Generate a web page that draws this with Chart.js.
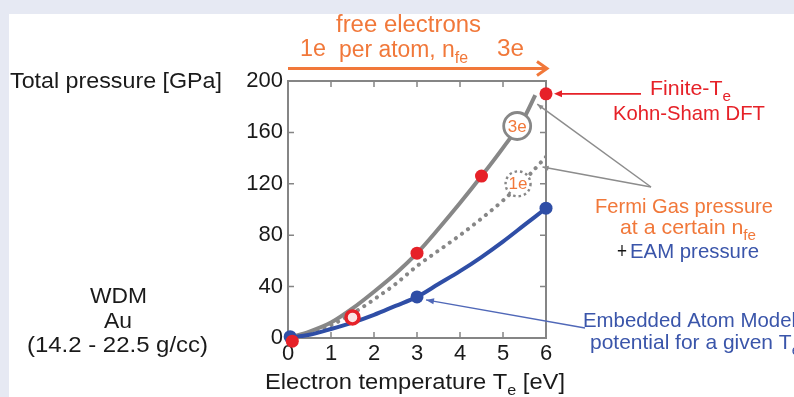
<!DOCTYPE html>
<html><head><meta charset="utf-8">
<script src="https://cdn.jsdelivr.net/npm/chart.js@4.4.0/dist/chart.umd.min.js"></script>
<style>html,body{margin:0;padding:0;background:#e6e9f3;overflow:hidden}#wrap{width:794px;height:397px;position:relative}canvas{display:block}</style>
</head><body><div id="wrap"><canvas id="c" width="794" height="397"></canvas></div>
<script>
// ---- data ----
const gas3eT = [0,0.5,1,1.5,2,2.5,3,3.5,4,4.5,5,5.5,5.75];
const gas3eP = [0,5,12,23,36,50,66,85,105,126,148,172,189];
const curveT = [0,0.5,1,1.5,2,2.5,3,3.5,4,4.5,5,5.5,6];
const gas1eP = [0,3,10,19,30,42,56,68,80,93,107,123,141];
const eamCurveP = [0,2.5,7,12,18,25,32,42,52,63,75,88,101];
const dftT = [0.1,1.5,3,4.5,6];
const dftP = [-2.5,16,66,126,190];
const eamT = [0.05,3,6];
const eamP = [1,32,101];
const xTickLabels = [0,1,2,3,4,5,6];
const yTickLabels = [0,40,80,120,160,200];
const markerLabels = ['3e','1e'];
const markerT = [5.33,5.35];
const markerP = [165,120];

const GRAY='#878787', BLUE='#2f4ea6', RED='#e62128', ORANGE='#f1783a', BTXT='#3a55aa';
const FONT='"Liberation Sans", Arial, sans-serif';
const pts=(xs,ys)=>xs.map((x,i)=>({x,y:ys[i]}));

function drawSeg(ctx, segs, x0, x1, base, size){
  ctx.save();
  let nat=0;
  segs.forEach(s=>{ctx.font=(s.sub?Math.round(size*0.7):size)+'px '+FONT; s.w=ctx.measureText(s.t).width; nat+=s.w;});
  const sx=(x1-x0)/nat;
  ctx.translate(x0,base); ctx.scale(sx,1);
  let cx=0;
  segs.forEach(s=>{
    ctx.font=(s.sub?Math.round(size*0.7):size)+'px '+FONT;
    ctx.fillStyle=s.color; ctx.textBaseline='alphabetic'; ctx.textAlign='left';
    ctx.fillText(s.t,cx,s.sub?size*0.27:0);
    cx+=s.w;
  });
  ctx.restore();
}
function arrowHead(ctx,x0,y0,x1,y1,len,wid,color){
  const a=Math.atan2(y1-y0,x1-x0);
  ctx.save();ctx.fillStyle=color;ctx.beginPath();
  ctx.moveTo(x1,y1);
  ctx.lineTo(x1-len*Math.cos(a)+wid*Math.sin(a), y1-len*Math.sin(a)-wid*Math.cos(a));
  ctx.lineTo(x1-len*Math.cos(a)-wid*Math.sin(a), y1-len*Math.sin(a)+wid*Math.cos(a));
  ctx.closePath();ctx.fill();ctx.restore();
}
function line(ctx,x0,y0,x1,y1,color,w){ctx.save();ctx.strokeStyle=color;ctx.lineWidth=w;ctx.beginPath();ctx.moveTo(x0,y0);ctx.lineTo(x1,y1);ctx.stroke();ctx.restore();}

const decor={
  id:'decor',
  beforeDraw(chart){
    const ctx=chart.ctx;ctx.save();
    ctx.fillStyle='#e6e9f3';ctx.fillRect(0,0,794,397);
    ctx.fillStyle='#ffffff';ctx.fillRect(9,14,785,383);
    ctx.restore();
  },
  beforeDatasetsDraw(chart){
    const ctx=chart.ctx, a=chart.chartArea, xs=chart.scales.x, ys=chart.scales.y;
    ctx.save();
    ctx.strokeStyle='#858585';ctx.lineWidth=1.5;
    ctx.beginPath();
    xs.ticks.forEach(t=>{const p=xs.getPixelForValue(t.value);ctx.moveTo(p,a.bottom);ctx.lineTo(p,a.bottom-6);ctx.moveTo(p,a.top);ctx.lineTo(p,a.top+6);});
    ys.ticks.forEach(t=>{const p=ys.getPixelForValue(t.value);ctx.moveTo(a.left,p);ctx.lineTo(a.left+6,p);ctx.moveTo(a.right,p);ctx.lineTo(a.right-6,p);});
    ctx.stroke();
    ctx.lineWidth=2;ctx.strokeRect(a.left,a.top,a.right-a.left,a.bottom-a.top);
    ctx.restore();
  },
  afterDraw(chart){
    const ctx=chart.ctx, xs=chart.scales.x, ys=chart.scales.y;
    const X=v=>xs.getPixelForValue(v), Y=v=>ys.getPixelForValue(v);
    markerLabels.forEach((lab,i)=>{
      const cx=X(markerT[i]), cy=Y(markerP[i]);
      ctx.save();ctx.beginPath();ctx.arc(cx,cy,i===0?13.5:12.5,0,Math.PI*2);ctx.fillStyle='#fff';ctx.fill();
      ctx.strokeStyle=GRAY;
      if(i===1){ctx.setLineDash([2.5,3]);ctx.lineWidth=2.4;}else{ctx.lineWidth=2.8;}
      ctx.stroke();ctx.setLineDash([]);
      ctx.fillStyle=ORANGE;ctx.font='17px '+FONT;ctx.textAlign='center';ctx.textBaseline='middle';
      ctx.fillText(lab,cx,cy+1);ctx.restore();
    });
    const ay=68.5, L=chart.chartArea.left, R=chart.chartArea.right+1;
    line(ctx,L,ay,R,ay,ORANGE,3);
    ctx.save();ctx.strokeStyle=ORANGE;ctx.lineWidth=3;ctx.lineJoin='miter';ctx.beginPath();
    ctx.moveTo(R-10,ay-7);ctx.lineTo(R,ay);ctx.lineTo(R-10,ay+7);ctx.stroke();ctx.restore();
    drawSeg(ctx,[{t:'free electrons',color:ORANGE}],336,481,32,23);
    drawSeg(ctx,[{t:'per atom, n',color:ORANGE},{t:'fe',sub:true,color:ORANGE}],339,468,57,23);
    drawSeg(ctx,[{t:'1e',color:ORANGE}],300,326,56,23);
    drawSeg(ctx,[{t:'3e',color:ORANGE}],497,524,56,23);
    drawSeg(ctx,[{t:'Total pressure [GPa]',color:'#1a1a1a'}],10,222,88,22);
    drawSeg(ctx,[{t:'WDM',color:'#1a1a1a'}],90,147,303,22);
    drawSeg(ctx,[{t:'Au',color:'#1a1a1a'}],104,132,328,22);
    drawSeg(ctx,[{t:'(14.2 - 22.5 g/cc)',color:'#1a1a1a'}],27,208,352,22);
    drawSeg(ctx,[{t:'Electron temperature T',color:'#1a1a1a'},{t:'e',sub:true,color:'#1a1a1a'},{t:' [eV]',color:'#1a1a1a'}],265,565,389,22);
    drawSeg(ctx,[{t:'Finite-T',color:RED},{t:'e',sub:true,color:RED}],650,731,95,21);
    drawSeg(ctx,[{t:'Kohn-Sham DFT',color:RED}],613,765,120,21);
    drawSeg(ctx,[{t:'Fermi Gas pressure',color:ORANGE}],595,773,213,21);
    drawSeg(ctx,[{t:'at a certain n',color:ORANGE},{t:'fe',sub:true,color:ORANGE}],620,756,234,21);
    drawSeg(ctx,[{t:'+',color:'#111'}],617,627,258,22);
    drawSeg(ctx,[{t:'EAM pressure',color:BTXT}],630,759,258,21);
    drawSeg(ctx,[{t:'Embedded Atom Model',color:BTXT}],583,796,327,21);
    drawSeg(ctx,[{t:'potential for a given T',color:BTXT},{t:'e',sub:true,color:BTXT}],590,800,349,21);
    const rx=X(dftT[4])+8, ry=Y(dftP[4]);
    line(ctx,641,ry,rx+5,ry,RED,1.6);arrowHead(ctx,641,ry,rx,ry,8,3.5,RED);
    const g1x=X(gas3eT[12])+2, g1y=Y(gas3eP[12])+9;
    const g2x=X(5.85)+3, g2y=Y(133);
    line(ctx,651,187,g1x,g1y,'#8c8c8c',1.5);arrowHead(ctx,651,187,g1x,g1y,6,2.5,'#8c8c8c');
    line(ctx,651,187,g2x,g2y,'#8c8c8c',1.5);arrowHead(ctx,651,187,g2x,g2y,6,2.5,'#8c8c8c');
    const bx=X(eamT[1])+9, by=Y(eamP[1])+3;
    line(ctx,585,328,bx,by,'#5068b8',1.5);arrowHead(ctx,585,328,bx,by,8,3,'#5068b8');
  }
};

new Chart(document.getElementById('c'),{
  type:'scatter',
  data:{datasets:[
    {label:'DFT',data:pts(dftT,dftP),pointRadius:6.5,pointHoverRadius:6.5,
     pointBackgroundColor:dftT.map((t,i)=>i===1?'#fbe4e4':RED),pointBorderColor:RED,
     pointBorderWidth:dftT.map((t,i)=>i===1?3.5:0),order:0,clip:false,showLine:false},
    {label:'EAM points',data:pts(eamT,eamP),pointRadius:6.5,pointBackgroundColor:BLUE,pointBorderWidth:0,order:1,clip:false,showLine:false},
    {label:'Fermi gas 3e',data:pts(gas3eT,gas3eP),showLine:true,borderColor:GRAY,borderWidth:4,pointRadius:0,cubicInterpolationMode:'monotone',order:4},
    {label:'Fermi gas 1e',data:pts(curveT,gas1eP),showLine:true,borderColor:GRAY,borderWidth:4,borderDash:[0.1,7.5],borderCapStyle:'round',pointRadius:0,cubicInterpolationMode:'monotone',order:5},
    {label:'EAM',data:pts(curveT,eamCurveP),showLine:true,borderColor:BLUE,borderWidth:4,pointRadius:0,cubicInterpolationMode:'monotone',order:3}
  ]},
  options:{
    responsive:false,animation:false,devicePixelRatio:1,
    layout:{padding:{top:81,right:248,left:0,bottom:0}},
    plugins:{legend:{display:false},tooltip:{enabled:false}},
    scales:{
      x:{type:'linear',min:0,max:6,
        afterBuildTicks:s=>{s.ticks=xTickLabels.map(v=>({value:v}));},
        ticks:{font:{family:FONT,size:22},color:'#1a1a1a',padding:3},
        grid:{display:false,drawTicks:false},border:{display:false},
        afterFit:s=>{s.height=59;}},
      y:{type:'linear',min:0,max:200,
        ticks:{stepSize:20,font:{family:FONT,size:22},color:'#1a1a1a',padding:5,
          callback:v=>yTickLabels.includes(v)?String(v):''},
        grid:{display:false,drawTicks:false},border:{display:false},
        afterFit:s=>{s.height=s.height;s.width=288;}}
    }
  },
  plugins:[decor]
});
</script></body></html>
